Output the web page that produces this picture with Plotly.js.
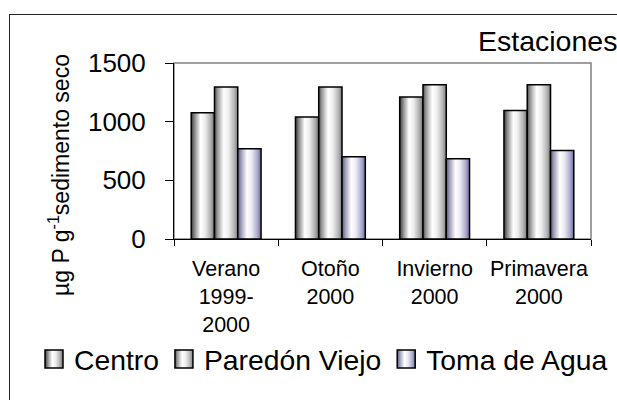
<!DOCTYPE html>
<html>
<head>
<meta charset="utf-8">
<script src="https://cdn.plot.ly/plotly-3.0.1.min.js"></script>
<style>
  html, body { margin: 0; padding: 0; background: #fff; }
  #wrap { position: relative; width: 617px; height: 400px; overflow: hidden; }
  #chart { width: 617px; height: 400px; }
  #frame { position: absolute; left: 9px; top: 14px; width: 700px; height: 500px;
           border-left: 1.5px solid #222; border-top: 1.5px solid #222; pointer-events: none; }
</style>
</head>
<body>
<div id="wrap">
  <div id="chart"></div>
  <div id="frame"></div>
</div>
<script>
const categories = ["Verano<br>1999-<br>2000", "Otoño<br>2000", "Invierno<br>2000", "Primavera<br>2000"];
const seriesNames = ["Centro", "Paredón Viejo", "Toma de Agua"];
const centro = [1075, 1040, 1210, 1095];
const paredon = [1295, 1295, 1315, 1315];
const toma = [770, 700, 685, 755];
const yTicks = [0, 500, 1000, 1500];
const yTitle = "µg P g<sup>-1</sup>sedimento seco";

const FONT = "Liberation Sans, Arial, sans-serif";
const barLine = { color: "#000", width: 1.5 };

const traces = [
  { type: "bar", name: seriesNames[0], x: categories, y: centro, marker: { color: "#bbbbbb", line: barLine } },
  { type: "bar", name: seriesNames[1], x: categories, y: paredon, marker: { color: "#cccccc", line: barLine } },
  { type: "bar", name: seriesNames[2], x: categories, y: toma, marker: { color: "#c8c8e0", line: barLine } }
];

const layout = {
  width: 617, height: 400,
  margin: { l: 174, r: 26, t: 63, b: 161, pad: 0 },
  paper_bgcolor: "#fff", plot_bgcolor: "#fff",
  font: { family: FONT, color: "#000" },
  showlegend: true,
  barmode: "group",
  bargap: 0.33, bargroupgap: 0,
  title: { text: "Estaciones", font: { family: FONT, size: 28.5, color: "#000" },
           xref: "container", yref: "container", x: 478/617, xanchor: "left", y: 1 - 41/400, yanchor: "middle" },
  xaxis: {
    type: "category", tickson: "boundaries", ticks: "outside", ticklen: 6, tickcolor: "#000", tickwidth: 1,
    showline: true, linecolor: "#000", linewidth: 1, showgrid: false, zeroline: false, tickangle: 0,
    tickfont: { family: FONT, size: 21.5, color: "#000" }, ticklabelstandoff: 10, fixedrange: true
  },
  yaxis: {
    range: [0, 1500], tickvals: yTicks, ticktext: yTicks.map(String), ticks: "outside", ticklen: 8,
    tickcolor: "#000", tickwidth: 1, showline: true, linecolor: "#000", linewidth: 1,
    showgrid: false, zeroline: false,
    tickfont: { family: FONT, size: 26, color: "#000" }, ticklabelstandoff: 14,
    fixedrange: true
  },
  annotations: [
    { text: yTitle, textangle: -90, xref: "paper", yref: "paper",
      x: (59 - 174) / 417, y: (239 - 175) / 176, xanchor: "center", yanchor: "middle",
      showarrow: false, font: { family: FONT, size: 23, color: "#000" } }
  ],
  legend: {
    orientation: "h", xref: "paper", yref: "paper", x: (34 - 174) / 417, xanchor: "left",
    y: (239 - 359) / 176, yanchor: "middle", font: { family: FONT, size: 28.3, color: "#000" },
    bgcolor: "rgba(0,0,0,0)", traceorder: "normal", itemclick: false, itemdoubleclick: false
  },
  shapes: [
    { type: "rect", xref: "paper", yref: "paper", x0: 0, x1: 1, y0: 0, y1: 1, layer: "below",
      line: { color: "#808080", width: 1.5 }, fillcolor: "rgba(0,0,0,0)" }
  ]
};

Plotly.newPlot("chart", traces, layout, { staticPlot: true, displayModeBar: false }).then(function (gd) {
  const svg = gd.querySelector("svg.main-svg");
  const ns = "http://www.w3.org/2000/svg";
  let defs = svg.querySelector("defs");
  if (!defs) { defs = document.createElementNS(ns, "defs"); svg.insertBefore(defs, svg.firstChild); }
  function grad(id, stops) {
    const g = document.createElementNS(ns, "linearGradient");
    g.setAttribute("id", id); g.setAttribute("x1", "0"); g.setAttribute("x2", "1");
    g.setAttribute("y1", "0"); g.setAttribute("y2", "0");
    stops.forEach(function (s) {
      const st = document.createElementNS(ns, "stop");
      st.setAttribute("offset", s[0]); st.setAttribute("stop-color", s[1]);
      g.appendChild(st);
    });
    defs.appendChild(g);
  }
  grad("gGray", [["0%", "#3a3a3a"], ["15%", "#8c8c8c"], ["40%", "#ffffff"], ["60%", "#ececec"], ["85%", "#acacac"], ["100%", "#6e6e6e"]]);
  grad("gGray2", [["0%", "#505050"], ["15%", "#a0a0a0"], ["40%", "#ffffff"], ["60%", "#eeeeee"], ["85%", "#b4b4b4"], ["100%", "#7a7a7a"]]);
  grad("gBlue", [["0%", "#5a5a78"], ["15%", "#a0a0bc"], ["40%", "#ffffff"], ["60%", "#eaeaf2"], ["85%", "#a8a8cc"], ["100%", "#6a6a9c"]]);
  const ids = ["gGray", "gGray2", "gBlue"];
  gd.querySelectorAll(".barlayer .trace.bars").forEach(function (t, i) {
    t.querySelectorAll("path").forEach(function (p) { p.style.fill = "url(#" + ids[i] + ")"; });
  });
  gd.querySelectorAll(".legend .traces").forEach(function (t, i) {
    t.querySelectorAll(".legendpoints path").forEach(function (p) {
      p.style.fill = "url(#" + ids[i] + ")";
      p.style.stroke = "#000";
      p.style.strokeWidth = "1px";
      const old = p.getAttribute("transform") || "";
      p.setAttribute("transform", old + " scale(1.5)");
    });
  });
});
</script>
</body>
</html>
